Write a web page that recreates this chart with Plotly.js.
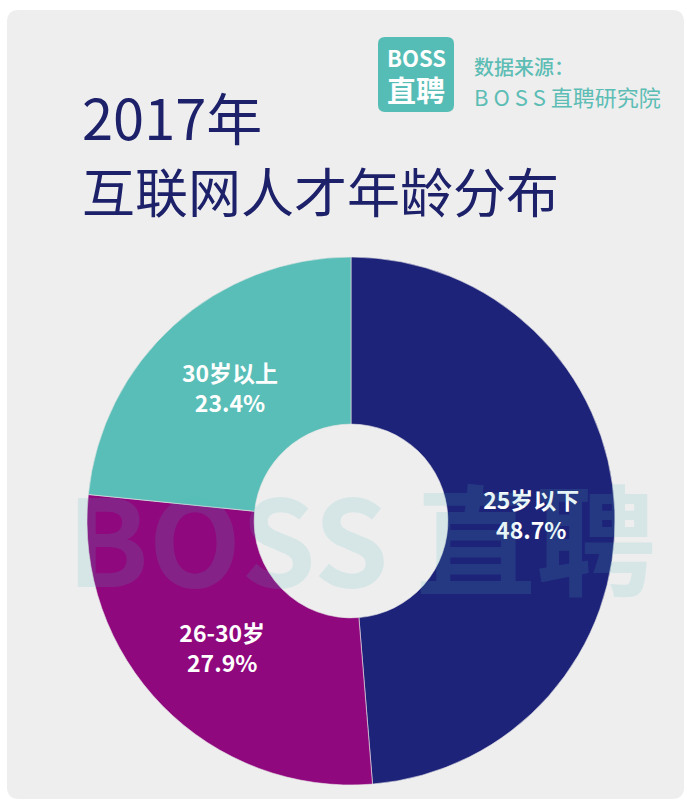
<!DOCTYPE html>
<html><head><meta charset="utf-8">
<script src="https://cdn.plot.ly/plotly-3.0.1.min.js"></script>
<style>html,body{margin:0;padding:0;background:#fff;}#chart{width:687px;height:800px;}</style>
</head><body><div id="chart"></div>
<script>
// ---- data ----
const categories = ['25岁以下', '26-30岁', '30岁以上'];
const shares = [48.7, 27.9, 23.4];
const sliceColors = ['#1e237a', '#8f087e', '#59beb7'];
const titleLine1 = '2017年';
const titleLine2 = '互联网人才年龄分布';
const logoTop = 'BOSS';
const logoBottom = '直聘';
const sourceLine1 = '数据来源：';
const sourceLine2 = 'B O S S 直聘研究院';
const watermark = 'BOSS 直聘';

const W = 687, H = 800;
const px = x => x / W;
const py = y => 1 - y / H;
const CJK = '"Noto Sans CJK SC", "Noto Sans", sans-serif';

// pie geometry (pixels)
const cx = 351, cy = 521, R = 264;

function roundRect(x0, y0, x1, y1, r) {
  return `M${px(x0+r)},${py(y0)} L${px(x1-r)},${py(y0)} Q${px(x1)},${py(y0)} ${px(x1)},${py(y0+r)} ` +
         `L${px(x1)},${py(y1-r)} Q${px(x1)},${py(y1)} ${px(x1-r)},${py(y1)} L${px(x0+r)},${py(y1)} ` +
         `Q${px(x0)},${py(y1)} ${px(x0)},${py(y1-r)} L${px(x0)},${py(y0+r)} Q${px(x0)},${py(y0)} ${px(x0+r)},${py(y0)} Z`;
}

const trace = {
  type: 'pie',
  labels: categories,
  values: shares,
  sort: false,
  direction: 'clockwise',
  rotation: 0,
  hole: 0.367,
  marker: {colors: sliceColors, line: {color: '#e6e6e6', width: 0.6}},
  texttemplate: '<b>%{label}</b><br><b>%{value:.1f}%</b>',
  textposition: 'inside',
  insidetextorientation: 'horizontal',
  insidetextfont: {color: '#ffffff', size: 23, family: CJK},
  domain: {x: [px(cx - R), px(cx + R)], y: [py(cy + R), py(cy - R)]},
  showlegend: false,
  hoverinfo: 'none'
};

const layout = {
  width: W, height: H,
  margin: {l: 0, r: 0, t: 0, b: 0},
  paper_bgcolor: '#ffffff',
  showlegend: false,
  shapes: [
    {type: 'path', xref: 'paper', yref: 'paper', layer: 'below',
     path: roundRect(7, 10, 684, 799, 12), fillcolor: '#eeeeee', line: {width: 0}},
    {type: 'path', xref: 'paper', yref: 'paper', layer: 'below',
     path: roundRect(378, 37, 454, 112, 7), fillcolor: '#56bdb6', line: {width: 0}}
  ],
  annotations: [
    {text: titleLine1, xref: 'paper', yref: 'paper', x: px(80), y: py(115), xanchor: 'left', yanchor: 'middle',
     showarrow: false, font: {family: CJK, size: 56, color: '#1d216a'}},
    {text: titleLine2, xref: 'paper', yref: 'paper', x: px(80), y: py(190), xanchor: 'left', yanchor: 'middle',
     showarrow: false, font: {family: CJK, size: 53, color: '#1d216a'}},
    {text: '<b>' + logoTop + '</b>', xref: 'paper', yref: 'paper', x: px(416), y: py(57), xanchor: 'center', yanchor: 'middle',
     showarrow: false, font: {family: CJK, size: 22, color: '#ffffff'}},
    {text: '<b>' + logoBottom + '</b>', xref: 'paper', yref: 'paper', x: px(416), y: py(89), xanchor: 'center', yanchor: 'middle',
     showarrow: false, font: {family: CJK, size: 29, color: '#ffffff'}},
    {text: sourceLine1, xref: 'paper', yref: 'paper', x: px(472), y: py(66), xanchor: 'left', yanchor: 'middle',
     showarrow: false, font: {family: CJK, size: 20, color: '#5cbdb5', weight: 500}},
    {text: sourceLine2, xref: 'paper', yref: 'paper', x: px(472), y: py(96), xanchor: 'left', yanchor: 'middle',
     showarrow: false, font: {family: CJK, size: 22, color: '#5cbdb5'}},
    {text: '<b>' + watermark + '</b>', xref: 'paper', yref: 'paper', x: px(361), y: py(535), xanchor: 'center', yanchor: 'middle',
     showarrow: false, font: {family: CJK, size: 120, color: 'rgba(80,185,190,0.15)'}}
  ]
};

Plotly.newPlot('chart', [trace], layout, {displayModeBar: false, staticPlot: true});
</script>
</body></html>
